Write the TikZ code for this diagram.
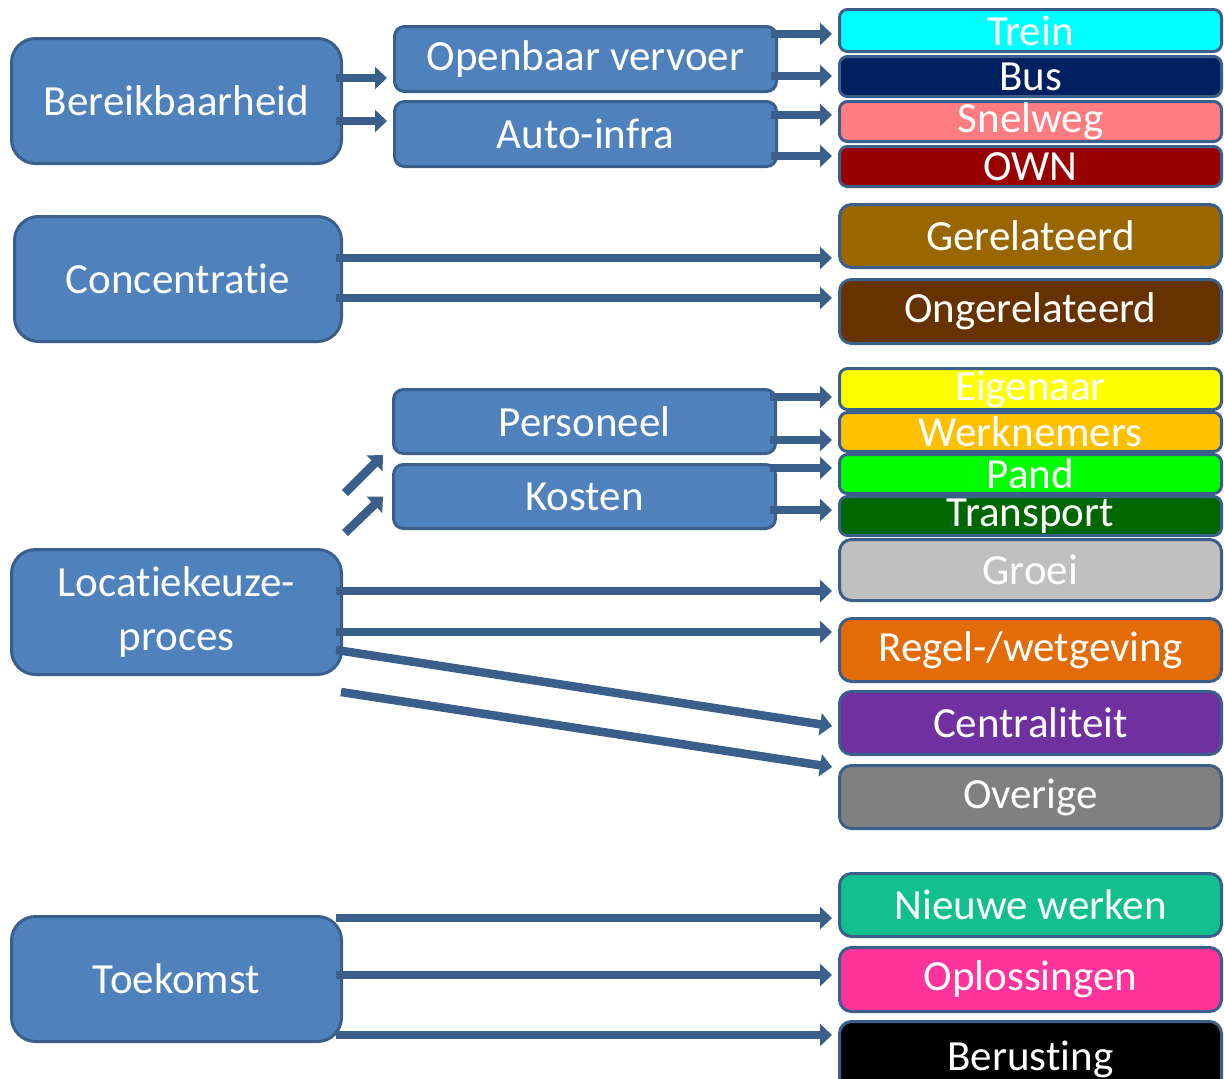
\documentclass[tikz,border=0pt]{standalone}
\usepackage{fontspec}
\setmainfont[Ligatures=NoCommon]{Carlito}
\usetikzlibrary{arrows.meta}
\definecolor{bord}{HTML}{3A5F8B}
\definecolor{arrc}{HTML}{3A5F8B}
\definecolor{mainblue}{HTML}{4F81BD}
\tikzset{
  bx/.style={draw=bord, line width=3pt, text=white, inner sep=0pt, anchor=north west,
    font=\fontsize{43}{54}\selectfont, align=center},
  lbox/.style={bx, fill=mainblue, rounded corners=24pt, minimum width=330pt, minimum height=125pt},
  mbox/.style={bx, fill=mainblue, rounded corners=10pt, minimum width=382pt, minimum height=64pt},
  sbox/.style={bx, rounded corners=8pt, minimum width=382pt, minimum height=40pt},
  rbox/.style={bx, rounded corners=12pt, minimum width=382pt, minimum height=63pt},
  arr/.style={draw=arrc, line width=8.5pt, -{Triangle[length=12pt,width=22pt]},
    shorten <=-7pt, shorten >=6pt},
}
\begin{document}
\begin{tikzpicture}[x=1pt,y=-1pt]
\useasboundingbox (0,0) rectangle (1224,1079);
\clip (0,0) rectangle (1224,1079);
% left boxes
\node[lbox] (bereik) at (10,37) {Bereikbaarheid};
\node[lbox, minimum width=327pt] (conc) at (13,215) {Concentratie};
\node[lbox] (loc) at (10,548) {Locatiekeuze-\\proces};
\node[lbox] (toek) at (10,915) {Toekomst};
% middle boxes
\node[mbox, minimum height=65pt] (ov) at (393,25) {Openbaar vervoer};
\node[mbox, minimum height=65pt] (auto) at (393,100) {Auto-infra};
\node[mbox] (pers) at (392,388) {Personeel};
\node[mbox] (kost) at (392,463) {Kosten};
% right boxes
\node[sbox, fill={rgb,255:red,0;green,255;blue,255}, minimum height=42pt] (trein) at (838,8) {Trein};
\node[sbox, fill={rgb,255:red,0;green,32;blue,96}] (bus) at (838,55) {Bus};
\node[sbox, fill={rgb,255:red,255;green,124;blue,128}] (snel) at (838,100) {Snelweg};
\node[sbox, fill={rgb,255:red,153;green,0;blue,0}] (own) at (838,145) {OWN};
\node[rbox, fill={rgb,255:red,153;green,102;blue,0}] (gerel) at (838,203) {Gerelateerd};
\node[rbox, fill={rgb,255:red,102;green,51;blue,0}, minimum height=64pt] (onger) at (838,278) {Ongerelateerd};
\node[sbox, fill={rgb,255:red,255;green,255;blue,0}, minimum height=41pt] (eig) at (838,367) {Eigenaar};
\node[sbox, fill={rgb,255:red,255;green,192;blue,0}, minimum height=39pt] (werk) at (838,411) {Werknemers};
\node[sbox, fill={rgb,255:red,0;green,255;blue,0}, minimum height=39pt] (pand) at (838,453) {Pand};
\node[sbox, fill={rgb,255:red,0;green,102;blue,0}, minimum height=39pt] (trans) at (838,495) {Transport};
\node[rbox, fill={rgb,255:red,192;green,192;blue,192}, minimum height=61pt] (groei) at (838,538) {Groei};
\node[rbox, fill={rgb,255:red,227;green,108;blue,9}] (regel) at (838,617) {Regel-/wetgeving};
\node[rbox, fill={rgb,255:red,112;green,48;blue,160}] (cent) at (838,690) {Centraliteit};
\node[rbox, fill={rgb,255:red,128;green,128;blue,128}] (over) at (838,764) {Overige};
\node[rbox, fill={rgb,255:red,18;green,191;blue,143}] (nieuw) at (838,872) {Nieuwe werken};
\node[rbox, fill={rgb,255:red,255;green,51;blue,153}, minimum height=64pt] (oplos) at (838,946) {Oplossingen};
\node[rbox, fill=black, minimum height=75pt] (berust) at (838,1020) {Berusting};
% arrows: Bereikbaarheid
\draw[arr] (bereik.east |- 0,78) -- (ov.west |- 0,78);
\draw[arr] (bereik.east |- 0,121) -- (auto.west |- 0,121);
\draw[arr] (ov.east |- 0,34) -- (trein.west |- 0,34);
\draw[arr] (ov.east |- 0,76) -- (bus.west |- 0,76);
\draw[arr] (auto.east |- 0,115) -- (snel.west |- 0,115);
\draw[arr] (auto.east |- 0,156) -- (own.west |- 0,156);
% Concentratie
\draw[arr] (conc.east |- 0,258) -- (gerel.west |- 0,258);
\draw[arr] (conc.east |- 0,298) -- (onger.west |- 0,298);
% Personeel / Kosten
\draw[arr] (pers.east |- 0,397) -- (eig.west |- 0,397);
\draw[arr] (pers.east |- 0,440) -- (werk.west |- 0,440);
\draw[arr] (kost.east |- 0,468) -- (pand.west |- 0,468);
\draw[arr] (kost.east |- 0,510) -- (trans.west |- 0,510);
\coordinate (d1) at (345,493);
\coordinate (d2) at (345,533);
\draw[arr, shorten <=0pt, shorten >=0pt] (d1) -- (pers.south west -| 383,455);
\draw[arr, shorten <=0pt, shorten >=0pt] (d2) -- (kost.west -| 383,495);
% Locatiekeuze
\draw[arr] (loc.east |- 0,591) -- (groei.west |- 0,591);
\draw[arr] (loc.east |- 0,632) -- (regel.west |- 0,632);
\draw[arr] (loc.east |- 0,651) -- (cent.west |- 0,727);
\coordinate (d3) at (341,692);
\draw[arr, shorten <=0pt] (d3) -- (over.west |- 0,768);
% Toekomst
\draw[arr] (toek.east |- 0,918) -- (nieuw.west |- 0,918);
\draw[arr] (toek.east |- 0,975) -- (oplos.west |- 0,975);
\draw[arr] (toek.east |- 0,1035) -- (berust.west |- 0,1035);
\end{tikzpicture}
\end{document}
